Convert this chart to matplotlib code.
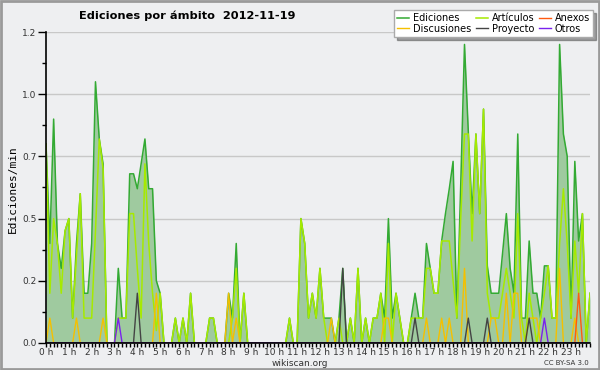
import matplotlib
matplotlib.use("Agg")
import matplotlib.pyplot as plt
from matplotlib.patches import Rectangle
from matplotlib.ticker import MultipleLocator, FuncFormatter
import numpy as np

# edits per minute, 10 minute bins, one row per hour
ediciones = [
    0.8, 0.4, 0.9, 0.4, 0.3, 0.45,
    0.5, 0.1, 0.4, 0.6, 0.2, 0.2,
    0.4, 1.05, 0.82, 0.72, 0, 0,
    0, 0.3, 0.1, 0.1, 0.68, 0.68,
    0.62, 0.72, 0.82, 0.62, 0.62, 0.25,
    0.2, 0, 0, 0, 0.1, 0,
    0.1, 0, 0.2, 0, 0, 0,
    0, 0.1, 0.1, 0, 0, 0,
    0.2, 0.1, 0.4, 0, 0.2, 0,
    0, 0, 0, 0, 0, 0,
    0, 0, 0, 0, 0.1, 0,
    0, 0.5, 0.4, 0.1, 0.2, 0.1,
    0.3, 0.1, 0.1, 0.1, 0, 0.1,
    0.3, 0, 0.1, 0, 0.3, 0,
    0.1, 0, 0.1, 0.1, 0.2, 0.1,
    0.5, 0.1, 0.2, 0.1, 0, 0,
    0.1, 0.2, 0.1, 0.1, 0.4, 0.3,
    0.2, 0.2, 0.41, 0.52, 0.62, 0.73,
    0.1, 0.63, 1.2, 0.85, 0.52, 0.84,
    0.52, 0.94, 0.31, 0.2, 0.2, 0.2,
    0.36, 0.52, 0.3, 0.2, 0.84, 0.1,
    0.1, 0.41, 0.2, 0.2, 0.1, 0.31,
    0.31, 0.1, 0.1, 1.2, 0.84, 0.75,
    0.1, 0.73, 0.41, 0.52, 0, 0.2,
]
articulos = [
    0.8, 0.2, 0.5, 0.4, 0.2, 0.45,
    0.5, 0.1, 0.35, 0.6, 0.1, 0.1,
    0.1, 0.45, 0.82, 0.7, 0, 0,
    0, 0.1, 0.1, 0.1, 0.52, 0.52,
    0.3, 0.1, 0.72, 0.4, 0.2, 0.05,
    0.2, 0, 0, 0, 0.1, 0,
    0.1, 0, 0.2, 0, 0, 0,
    0, 0.1, 0.1, 0, 0, 0,
    0, 0.1, 0.3, 0, 0.2, 0,
    0, 0, 0, 0, 0, 0,
    0, 0, 0, 0, 0.1, 0,
    0, 0.5, 0.4, 0.1, 0.2, 0.1,
    0.3, 0.1, 0, 0, 0, 0.1,
    0, 0, 0.1, 0, 0.3, 0,
    0.1, 0, 0.1, 0.1, 0.2, 0,
    0.4, 0, 0.2, 0.1, 0, 0,
    0.1, 0.1, 0.1, 0.1, 0.3, 0.3,
    0.2, 0.2, 0.41, 0.41, 0.41, 0.25,
    0.1, 0.5, 0.84, 0.84, 0.41, 0.84,
    0.52, 0.94, 0.2, 0.1, 0.1, 0.1,
    0.2, 0.3, 0.2, 0.1, 0.52, 0.1,
    0, 0.2, 0.1, 0, 0.1, 0.2,
    0.31, 0.1, 0.1, 0.4, 0.62, 0.4,
    0.1, 0.41, 0.2, 0.52, 0, 0.2,
]
# sparse series: {bin index: value}
discusiones = {1: 0.1, 8: 0.1, 15: 0.1, 29: 0.2, 48: 0.2, 50: 0.1, 75: 0.1,
               89: 0.1, 90: 0.1, 100: 0.1, 104: 0.1, 106: 0.1, 110: 0.3,
               117: 0.1, 118: 0.1, 121: 0.2, 123: 0.2, 124: 0.2, 127: 0.1,
               128: 0.1, 129: 0.1, 135: 0.3, 139: 0.1}
anexos = {140: 0.2}
proyecto = {24: 0.2, 78: 0.3, 97: 0.1, 111: 0.1, 116: 0.1, 127: 0.1}
otros = {19: 0.1, 131: 0.1}

n = len(ediciones)
t = np.arange(n) / 6.0


def dense(d):
    v = np.zeros(n)
    for k, val in d.items():
        v[k] = val
    return v


bg = "#eeeff1"
fig = plt.figure(figsize=(6, 3.7), dpi=100, facecolor=bg)
ax = fig.add_axes([0.0767, 0.073, 0.9067, 0.8405], facecolor=bg)

ax.fill_between(t, ediciones, color="#9fca9f", lw=0)
ax.plot(t, ediciones, color="#33aa33", lw=1.1, label="Ediciones")
ax.plot(t, articulos, color="#a6ea00", lw=1.1, label="Artículos")
ax.plot(t, dense(discusiones), color="#f5c000", lw=1.0, label="Discusiones")
ax.plot(t, dense(anexos), color="#ff5a10", lw=1.0, label="Anexos")
ax.plot(t, dense(proyecto), color="#444444", lw=1.0, label="Proyecto")
ax.plot(t, dense(otros), color="#7a22ee", lw=1.0, label="Otros")

ax.set_xlim(0, (n - 1) / 6.0)
ax.set_ylim(0, 1.25)
for s in ["top", "right"]:
    ax.spines[s].set_visible(False)
ax.spines["left"].set_linewidth(1.2)
ax.spines["bottom"].set_linewidth(1.2)
ax.yaxis.grid(True, color="#c8c8c8", lw=1)
ax.set_axisbelow(True)

ax.yaxis.set_major_locator(MultipleLocator(0.25))
ax.yaxis.set_minor_locator(MultipleLocator(0.125))
ax.yaxis.set_major_formatter(FuncFormatter(lambda v, p: f"{int(v * 10 + 1e-6) / 10:.1f}"))
ax.xaxis.set_major_locator(MultipleLocator(1))
ax.xaxis.set_minor_locator(MultipleLocator(1 / 6))
ax.xaxis.set_major_formatter(FuncFormatter(lambda v, p: f"{int(round(v))} h"))
ax.tick_params(axis="y", which="major", length=6, width=1, labelsize=6.5, labelcolor="#333", pad=1)
ax.tick_params(axis="y", which="minor", length=3, width=1)
ax.tick_params(axis="x", which="both", length=3, width=1, labelsize=6.5, labelcolor="#333", pad=0.5)

fig.text(0.312, 0.958, "Ediciones por ámbito  2012-11-19", ha="center", va="center",
         fontsize=8.2, fontweight="bold")
fig.text(0.022, 0.49, "Ediciones/min", rotation=90, ha="center", va="center",
         fontsize=8, family="DejaVu Sans Mono")
fig.text(0.5, 0.018, "wikiscan.org", ha="center", va="center", fontsize=6.5, color="#333")
fig.text(0.982, 0.018, "CC BY-SA 3.0", ha="right", va="center", fontsize=5, color="#333")

handles, labels = ax.get_legend_handles_labels()
order = ["Ediciones", "Discusiones", "Artículos", "Proyecto", "Anexos", "Otros"]
idx = [labels.index(o) for o in order]
leg = fig.legend([handles[i] for i in idx], order, ncol=3, loc="upper right",
                 bbox_to_anchor=(0.988, 0.973), fontsize=7, frameon=True, shadow=True,
                 fancybox=False, handlelength=1.2, handletextpad=0.4, columnspacing=0.5,
                 labelspacing=0.1, borderpad=0.3, borderaxespad=0.0)
leg.get_frame().set_edgecolor("#aaaaaa")
leg.get_frame().set_facecolor("#ffffff")

fig.add_artist(Rectangle((0.002, 0.003), 0.996, 0.994, transform=fig.transFigure,
                         fill=False, ec="#9a9a9a", lw=2))

fig.savefig("out.png", dpi=100, facecolor=bg)
